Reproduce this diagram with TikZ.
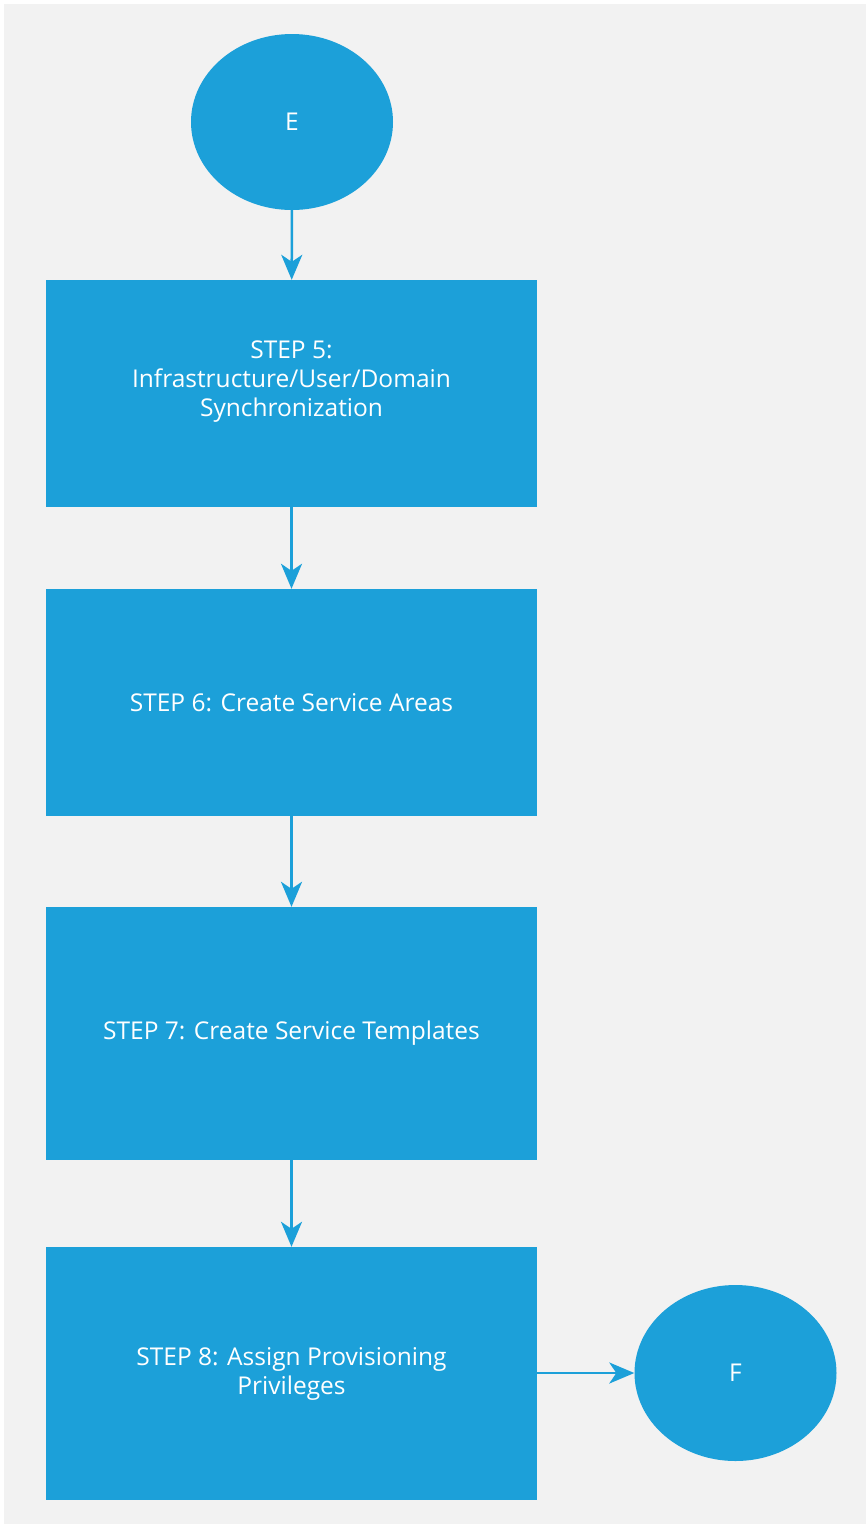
\documentclass[tikz,border=0pt]{standalone}
\usepackage{fontspec}
\newfontfamily\labfont{Open Sans}
\usetikzlibrary{shapes.geometric,arrows.meta}
\definecolor{flowblue}{HTML}{1CA0D9}
\definecolor{pagegray}{HTML}{F2F2F2}
\tikzset{
  stepbox/.style={rectangle, fill=flowblue, text=white, minimum width=491pt,
    align=center, inner sep=0pt, font=\labfont\fontsize{24.5}{29}\selectfont},
  terminal/.style={ellipse, fill=flowblue, text=white, minimum width=202pt,
    minimum height=176pt, inner sep=0pt, font=\labfont\fontsize{24.5}{29}\selectfont},
  flow/.style={draw=flowblue, line width=2.5pt,
    -{Stealth[length=25pt, width=21pt, inset=7pt]}}
}
\begin{document}
\begin{tikzpicture}[x=1pt, y=-1pt]
  \useasboundingbox (0,0) rectangle (866,1524);
  \fill[white] (0,0) rectangle (866,1524);
  \fill[pagegray] (4,4) rectangle (866,1524);

  \node[terminal] (E) at (292,122) {E};
  % the empty last line lifts the three text lines a little
  \node[stepbox, minimum height=227pt] (s5) at (291.5,393.5)
    {STEP 5:\\Infrastructure/User/Domain\\Synchronization\\ \mbox{}};
  \node[stepbox, minimum height=227pt] (s6) at (291.5,702.5)
    {STEP 6: Create Service Areas};
  \node[stepbox, minimum height=253pt] (s7) at (291.5,1033.5)
    {STEP 7: Create Service Templates};
  \node[stepbox, minimum height=253pt] (s8) at (291.5,1373.5)
    {STEP 8: Assign Provisioning\\Privileges};
  \node[terminal] (F) at (735.5,1373) {F};

  \draw[flow] (E) -- (s5);
  \draw[flow] (s5) -- (s6);
  \draw[flow] (s6) -- (s7);
  \draw[flow] (s7) -- (s8);
  \draw[flow] (s8.east |- F) -- (F);
\end{tikzpicture}
\end{document}
